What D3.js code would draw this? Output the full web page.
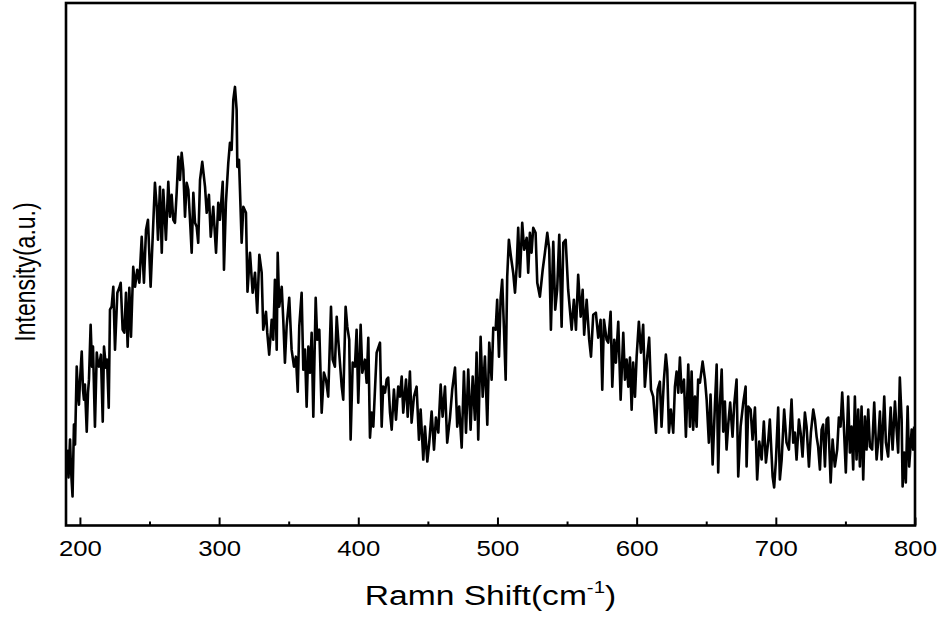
<!DOCTYPE html>
<html>
<head>
<meta charset="utf-8">
<script src="https://cdn.jsdelivr.net/npm/d3@7"></script>
<style>
  html, body { margin: 0; padding: 0; background: #fff; }
  svg { display: block; }
</style>
</head>
<body>
<svg id="chart" width="942" height="619"></svg>
<script>
// Raman spectrum: shift (cm^-1) and measured intensity (a.u.)
const shift = [
  190.7,191.8,192.9,193.6,194.7,195.7,196.5,197.7,198.6,199.3,
  200.1,201.3,202.2,202.9,203.6,204.9,205.8,206.5,207.7,208.7,
  209.4,210.8,212.1,213.0,213.7,215.1,216.4,217.3,218.7,219.5,
  220.7,221.6,222.8,224.0,225.2,226.9,228.3,229.3,230.7,231.9,
  233.1,234.3,235.5,236.7,238.3,239.6,241.2,242.7,
  244.4,246.0,247.5,248.9,250.8,252.3,253.9,255.2,256.1,257.5,
  258.8,259.9,261.8,263.5,264.7,265.9,267.1,268.3,269.5,270.7,
  271.9,273.1,274.3,275.5,276.7,277.9,279.1,280.3,281.5,282.7,
  283.9,285.0,286.3,287.9,289.9,291.1,292.7,294.0,295.8,297.8,
  299.4,300.6,302.6,303.5,304.9,306.6,307.8,309.0,310.2,311.4,
  312.6,313.1,314.3,315.0,316.2,317.4,319.3,320.4,322.2,324.1,
  325.8,327.4,328.9,330.6,331.7,333.7,334.6,336.0,337.8,338.9,
  340.1,341.4,342.1,343.2,345.0,346.1,347.3,348.5,350.4,352.1,
  353.8,355.2,356.5,357.6,359.3,360.5,361.7,362.9,364.1,365.3,
  366.5,367.7,369.4,370.5,372.0,373.7,375.3,376.8,378.4,380.4,
  381.6,383.2,384.5,385.6,388.1,389.2,390.9,392.1,393.5,394.5,
  396.0,397.6,398.8,400.0,401.7,402.9,404.8,406.0,407.2,408.4,
  409.6,410.8,413.2,415.6,416.8,417.9,419.2,420.4,421.5,422.8,
  424.0,425.6,427.1,428.7,429.9,431.2,432.3,434.3,435.5,437.1,
  438.3,440.0,441.9,443.6,444.8,446.7,447.9,449.6,451.0,452.7,
  454.4,455.8,457.5,459.2,460.6,462.3,463.9,465.9,467.5,469.5,
  471.1,472.5,474.3,475.9,477.4,479.0,480.7,482.2,483.8,485.0,
  486.2,487.9,489.4,491.0,492.7,494.1,495.8,497.0,498.7,499.8,
  501.1,502.3,503.4,504.7,505.9,507.0,508.2,509.7,511.3,512.6,
  513.8,514.9,516.1,517.8,519.2,521.0,522.1,523.3,524.5,525.7,
  527.4,528.6,530.5,532.5,534.1,535.8,537.2,538.4,540.1,541.5,
  542.9,544.4,546.1,547.3,549.0,550.8,553.3,554.9,556.4,558.0,
  559.8,561.2,562.3,564.1,565.9,567.2,568.8,570.7,572.4,574.1,
  575.3,576.5,578.4,579.6,581.3,582.5,583.9,585.1,586.8,588.5,
  590.4,591.6,592.8,594.0,595.2,596.4,597.5,598.8,600.0,601.6,
  603.1,604.7,605.9,607.6,609.0,610.3,611.9,613.9,615.1,616.7,
  617.9,619.6,621.0,622.0,623.2,624.6,626.3,627.5,628.7,629.9,
  631.1,632.3,634.0,635.4,637.1,638.3,639.5,640.6,641.9,643.1,
  644.2,645.5,647.4,649.1,650.3,651.9,653.1,654.6,656.2,657.5,
  658.6,659.8,661.1,662.2,663.4,664.6,665.8,667.2,668.9,670.1,
  671.8,673.0,674.7,676.6,678.3,679.0,680.2,681.9,683.3,685.0,
  686.6,688.1,689.8,691.4,692.9,694.5,695.7,697.7,698.8,700.1,
  701.7,702.9,704.2,706.0,707.7,709.4,711.3,712.5,713.7,714.9,
  716.6,717.8,719.2,720.9,722.1,723.8,725.2,726.9,728.1,729.3,
  730.4,731.7,732.9,734.0,735.3,736.5,737.6,739.4,740.8,742.4,
  744.1,745.3,746.5,747.7,748.9,750.3,752.0,753.2,754.4,755.6,
  756.8,758.0,759.2,760.4,761.6,762.8,764.0,765.2,766.4,767.6,
  769.2,770.7,772.4,773.5,774.8,776.0,777.9,779.1,780.7,782.5,
  783.9,785.6,786.8,787.9,789.1,790.4,791.1,792.2,793.4,794.7,
  795.8,797.6,798.7,799.4
];

const intensity = [
  76,48,86,56,29,101,81,159,131,121,
  146,174,136,126,141,94,133,146,201,159,
  179,99,173,161,159,171,104,179,158,166,
  118,216,219,239,176,233,238,243,196,193,
  233,179,238,189,259,239,256,243,
  289,243,296,306,239,289,343,319,286,339,
  273,336,286,344,309,331,306,303,333,369,
  346,373,356,309,343,336,306,273,333,303,
  299,283,346,364,339,313,331,289,319,273,
  323,306,344,256,323,363,383,376,426,439,
  416,359,366,336,283,319,313,234,273,233,
  253,213,271,253,196,214,193,171,206,186,
  246,176,273,219,239,206,163,199,228,176,
  159,169,134,199,233,156,176,119,179,153,
  193,109,228,186,196,113,153,146,129,219,
  166,159,209,186,139,126,219,199,186,86,
  163,159,196,123,201,153,166,143,188,88,
  113,99,173,183,99,139,133,146,148,113,
  96,136,106,139,129,149,113,146,109,154,
  103,129,139,86,116,66,99,64,83,114,
  76,108,93,141,109,139,83,108,136,158,
  99,119,78,154,93,156,96,149,106,173,
  86,189,129,169,101,183,146,198,196,226,
  169,228,246,196,146,249,286,269,253,233,
  259,298,249,303,276,288,253,293,273,298,
  293,243,229,256,273,293,276,196,284,216,
  236,291,199,283,286,236,196,226,196,251,
  209,236,191,226,186,169,211,213,188,206,
  136,206,186,183,214,139,186,163,204,126,
  193,146,166,139,168,116,163,129,169,204,
  173,201,139,169,188,136,129,93,136,144,
  99,146,171,156,93,116,93,139,154,133,
  168,133,146,89,161,99,154,96,129,99,
  146,143,164,146,126,83,131,61,119,161,
  53,121,156,94,124,76,101,123,89,121,
  146,49,99,123,139,59,119,116,86,118,
  46,84,66,104,63,84,106,49,38,66,
  118,46,66,116,83,76,126,83,93,66,
  106,93,69,113,99,59,93,116,106,89,
  79,56,96,101,59,106,108,43,86,59,
  76,108,99,133,99,53,129,73,99,56,
  129,66,116,59,119,46,109,76,116,79,
  76,123,66,83,114,66,129,83,69,118,
  76,124,96,73,148,106,39,73,43,119,
  59,96,76,99
];

const xDomain = [190, 800];
const yDomain = [0, 523];
const xMajorTicks = [200, 300, 400, 500, 600, 700, 800];
const xMinorTicks = [250, 350, 450, 550, 650, 750];
const xTitle = "Ramn Shift(cm";
const xTitleSup = "-1";
const yTitle = "Intensity(a.u.)";

const plot = { left: 66, right: 915, top: 3, bottom: 525.5 };
const FONT = "'Liberation Sans', Arial, Helvetica, sans-serif";

const svg = d3.select("#chart");

const x = d3.scaleLinear().domain(xDomain).range([plot.left, plot.right]);
const y = d3.scaleLinear().domain(yDomain).range([plot.bottom, plot.top]);

const points = shift.map((s, i) => ({ s, v: intensity[i] }));

// spectrum trace
const line = d3.line()
  .x(d => x(d.s))
  .y(d => y(d.v));

svg.append("path")
  .datum(points)
  .attr("fill", "none")
  .attr("stroke", "#000")
  .attr("stroke-width", 2.6)
  .attr("stroke-linejoin", "round")
  .attr("d", line);

// bottom axis: inward major + minor ticks, labels below
const gx = svg.append("g")
  .attr("transform", `translate(0,${plot.bottom})`)
  .call(d3.axisBottom(x).tickValues(xMajorTicks).tickSize(-8).tickPadding(22)
    .tickFormat(d3.format("d")));
gx.select(".domain").remove();
gx.selectAll(".tick line").attr("stroke", "#000").attr("stroke-width", 2);
gx.selectAll(".tick text")
  .attr("fill", "#000")
  .attr("font-family", FONT)
  .attr("font-size", 22)
  .attr("y", 0)
  .attr("dy", 0)
  .attr("transform", "translate(0,30.5) scale(1.17,1)");

const gxm = svg.append("g")
  .attr("transform", `translate(0,${plot.bottom})`)
  .call(d3.axisBottom(x).tickValues(xMinorTicks).tickSize(-4).tickFormat(""));
gxm.select(".domain").remove();
gxm.selectAll(".tick line").attr("stroke", "#000").attr("stroke-width", 2);

// frame around the plotting area
svg.append("rect")
  .attr("x", plot.left)
  .attr("y", plot.top)
  .attr("width", plot.right - plot.left)
  .attr("height", plot.bottom - plot.top)
  .attr("fill", "none")
  .attr("stroke", "#000")
  .attr("stroke-width", 2.6);

// axis titles
const xt = svg.append("text")
  .attr("transform", `translate(${(plot.left + plot.right) / 2},605) scale(1.2,1)`)
  .attr("text-anchor", "middle")
  .attr("font-family", FONT)
  .attr("font-size", 28)
  .attr("fill", "#000");
xt.append("tspan").text(xTitle);
xt.append("tspan").attr("font-size", 17).attr("dy", -12).text(xTitleSup);
xt.append("tspan").attr("dy", 12).text(")");

svg.append("text")
  .attr("transform", `translate(35,272) rotate(-90) scale(1,1.3)`)
  .attr("text-anchor", "middle")
  .attr("font-family", FONT)
  .attr("font-size", 23)
  .attr("fill", "#000")
  .text(yTitle);
</script>
</body>
</html>
